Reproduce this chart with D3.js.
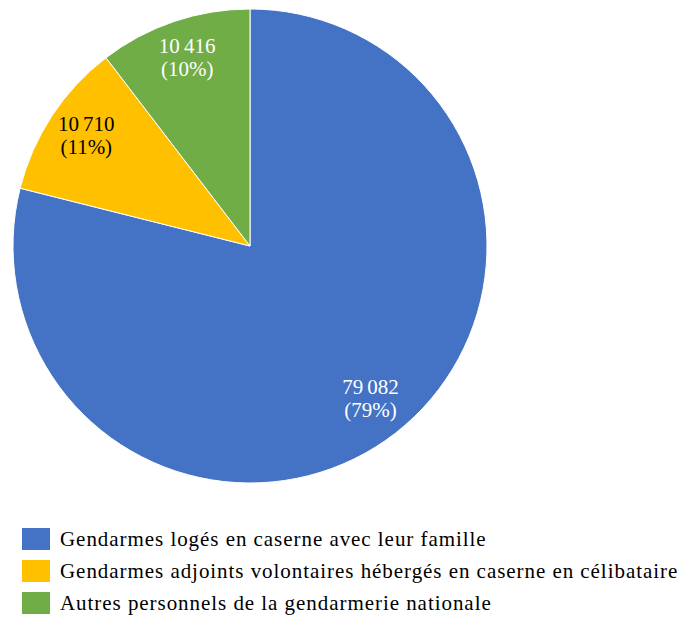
<!DOCTYPE html>
<html><head><meta charset="utf-8">
<script src="https://cdn.jsdelivr.net/npm/d3@7"></script>
<style>body{margin:0;background:#fff}svg{display:block}</style>
</head><body>
<svg id="c" width="680" height="617"></svg>
<script>
const categories = [
  "Gendarmes logés en caserne avec leur famille",
  "Gendarmes adjoints volontaires hébergés en caserne en célibataire",
  "Autres personnels de la gendarmerie nationale"
];
const values = [79082, 10710, 10416];
const colors = ["#4472C4", "#FFC000", "#70AD47"];
const labelColors = ["#ffffff", "#000000", "#ffffff"];

const FONT = "'Liberation Serif','DejaVu Serif',serif";
const svg = d3.select("#c");
const cx = 250, cy = 246, R = 237;
const total = d3.sum(values);
const loc = d3.formatLocale({decimal: ",", thousands: "\u202F", grouping: [3], currency: ["", "€"]});
const fmt = loc.format(",d");

const pie = d3.pie().sort(null).value(d => d)(values);
const arc = d3.arc().innerRadius(0).outerRadius(R);
const labelArc = d3.arc().innerRadius(196).outerRadius(196);

const g = svg.append("g").attr("transform", `translate(${cx},${cy})`);
g.selectAll("path").data(pie).join("path")
  .attr("d", arc)
  .attr("fill", (d, i) => colors[i])
  .attr("stroke", "#fff").attr("stroke-width", 1);

const lab = g.selectAll("text.lab").data(pie).join("text")
  .attr("class", "lab")
  .attr("transform", d => `translate(${labelArc.centroid(d)})`)
  .attr("text-anchor", "middle")
  .attr("font-family", FONT).attr("font-size", 21)
  .attr("letter-spacing", 0.6)
  .attr("fill", (d, i) => labelColors[i]);
lab.append("tspan").attr("x", 0).attr("y", -7).text(d => fmt(d.data));
lab.append("tspan").attr("x", 0).attr("y", 16).text(d => "(" + Math.round(d.data / total * 100) + "%)");

const leg = svg.append("g");
const rows = leg.selectAll("g").data(categories).join("g")
  .attr("transform", (d, i) => `translate(22,${528 + i * 32})`);
rows.append("rect").attr("width", 28).attr("height", 22)
  .attr("fill", (d, i) => colors[i]);
rows.append("text").attr("x", 38).attr("y", 18)
  .attr("font-family", FONT).attr("font-size", 21).attr("fill", "#000")
  .attr("letter-spacing", 0.95)
  .text(d => d);
</script>
</body></html>
